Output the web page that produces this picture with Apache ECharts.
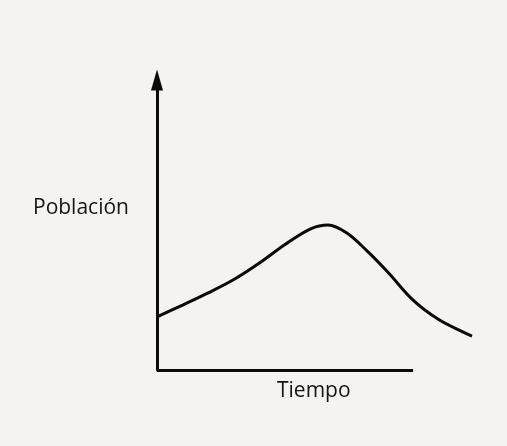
<!DOCTYPE html>
<html>
<head>
<meta charset="utf-8">
<script src="https://cdn.jsdelivr.net/npm/echarts@6/dist/echarts.min.js"></script>
<style>
html,body{margin:0;padding:0;background:#f4f3f1;}
#c{width:507px;height:446px;}
</style>
</head>
<body>
<div id="c"></div>
<script>
// Time (arbitrary units) and population (arbitrary units)
const tiempo = [0, 1, 2, 3, 4, 5, 6, 6.68, 7.4, 8.2, 9, 10, 11, 12, 12.3];
const poblacion = [1.83, 2.24, 2.66, 3.12, 3.69, 4.33, 4.87, 5.00, 4.73, 4.11, 3.39, 2.41, 1.74, 1.29, 1.17];
const xAxisEnd = 10;   // where the drawn time axis stops
const xDataEnd = 12.3; // where the curve stops
const yLabel = 'Población';
const xLabel = 'Tiempo';

const chart = echarts.init(document.getElementById('c'));
chart.setOption({
  backgroundColor: '#f4f3f1',
  animation: false,
  grid: {left: 157, right: 35, top: 80, bottom: 76},
  xAxis: {
    type: 'value', min: 0, max: xDataEnd,
    axisLine: {show: false},
    axisTick: {show: false}, axisLabel: {show: false}, splitLine: {show: false}
  },
  yAxis: {
    type: 'value', min: 0, max: 10,
    axisLine: {show: true, symbol: ['none', 'triangle'], symbolSize: [12, 21],
      lineStyle: {color: '#0a0a0a', width: 3}},
    axisTick: {show: false}, axisLabel: {show: false}, splitLine: {show: false}
  },
  graphic: [
    {type: 'text', left: 33, top: 198, style: {text: yLabel, fontFamily: 'Open Sans', fontSize: 21, fill: '#141414'}},
    {type: 'text', left: 277, top: 381, style: {text: xLabel, fontFamily: 'Open Sans', fontSize: 21, fill: '#141414'}}
  ],
  series: [{
    type: 'line',
    data: tiempo.map((t, i) => [t, poblacion[i]]),
    smooth: 0.35,
    clip: false,
    showSymbol: false,
    lineStyle: {color: '#0a0a0a', width: 3},
    markLine: {
      silent: true,
      symbol: ['none', 'none'],
      label: {show: false},
      lineStyle: {color: '#0a0a0a', width: 3, type: 'solid'},
      data: [[{coord: [0, 0]}, {coord: [xAxisEnd, 0]}]]
    }
  }]
});
</script>
</body>
</html>
